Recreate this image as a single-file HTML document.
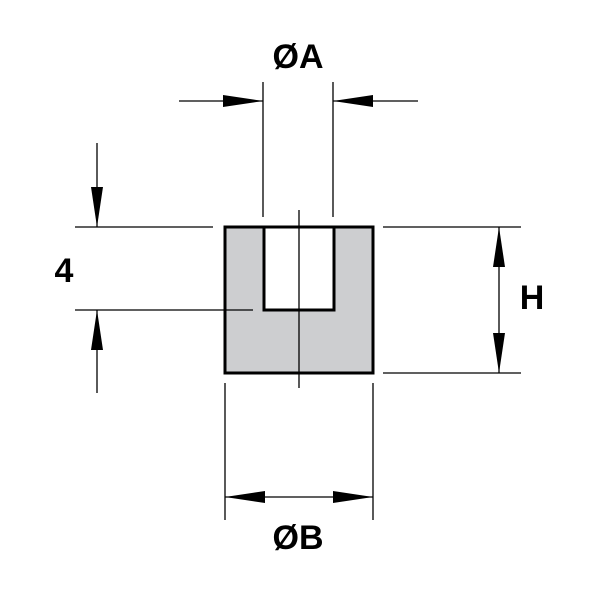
<!DOCTYPE html><html><head><style>body{margin:0;background:#fff}</style></head><body>
<svg width="600" height="600" xmlns="http://www.w3.org/2000/svg">
<defs><marker id="a" viewBox="0 0 40 12" refX="40" refY="6" markerWidth="40" markerHeight="12" markerUnits="userSpaceOnUse" orient="auto" preserveAspectRatio="none"><path d="M0,0 L40,6 L0,12z" fill="#000"/></marker></defs>
<rect x="225" y="227" width="148" height="146" fill="#cdced0" stroke="#000" stroke-width="3"/>
<rect x="264" y="227" width="70" height="83" fill="#fff" stroke="#000" stroke-width="3"/>
<g stroke="#000" stroke-width="1.3" fill="none">
<line x1="299" y1="210" x2="299" y2="388"/>
<line x1="75" y1="310" x2="253" y2="310"/>
<line x1="75" y1="227" x2="213" y2="227"/>
<line x1="263" y1="82" x2="263" y2="217"/>
<line x1="333" y1="82" x2="333" y2="217"/>
<line x1="179" y1="101" x2="263" y2="101" marker-end="url(#a)"/>
<line x1="418" y1="101" x2="333" y2="101" marker-end="url(#a)"/>
<line x1="97" y1="143" x2="97" y2="227" marker-end="url(#a)"/>
<line x1="97" y1="393" x2="97" y2="310" marker-end="url(#a)"/>
<line x1="383" y1="227" x2="521" y2="227"/>
<line x1="383" y1="373" x2="521" y2="373"/>
<line x1="499" y1="300" x2="499" y2="227" marker-end="url(#a)"/>
<line x1="499" y1="300" x2="499" y2="373" marker-end="url(#a)"/>
<line x1="225" y1="383" x2="225" y2="520"/>
<line x1="373" y1="383" x2="373" y2="520"/>
<line x1="299" y1="497" x2="225" y2="497" marker-end="url(#a)"/>
<line x1="299" y1="497" x2="373" y2="497" marker-end="url(#a)"/>
</g>
<g font-family="Liberation Sans, sans-serif" font-weight="bold" font-size="34" text-anchor="middle">
<text x="298" y="68">ØA</text>
<text x="64" y="282">4</text>
<text x="532" y="309">H</text>
<text x="298" y="549">ØB</text>
</g>
</svg>
</body></html>
